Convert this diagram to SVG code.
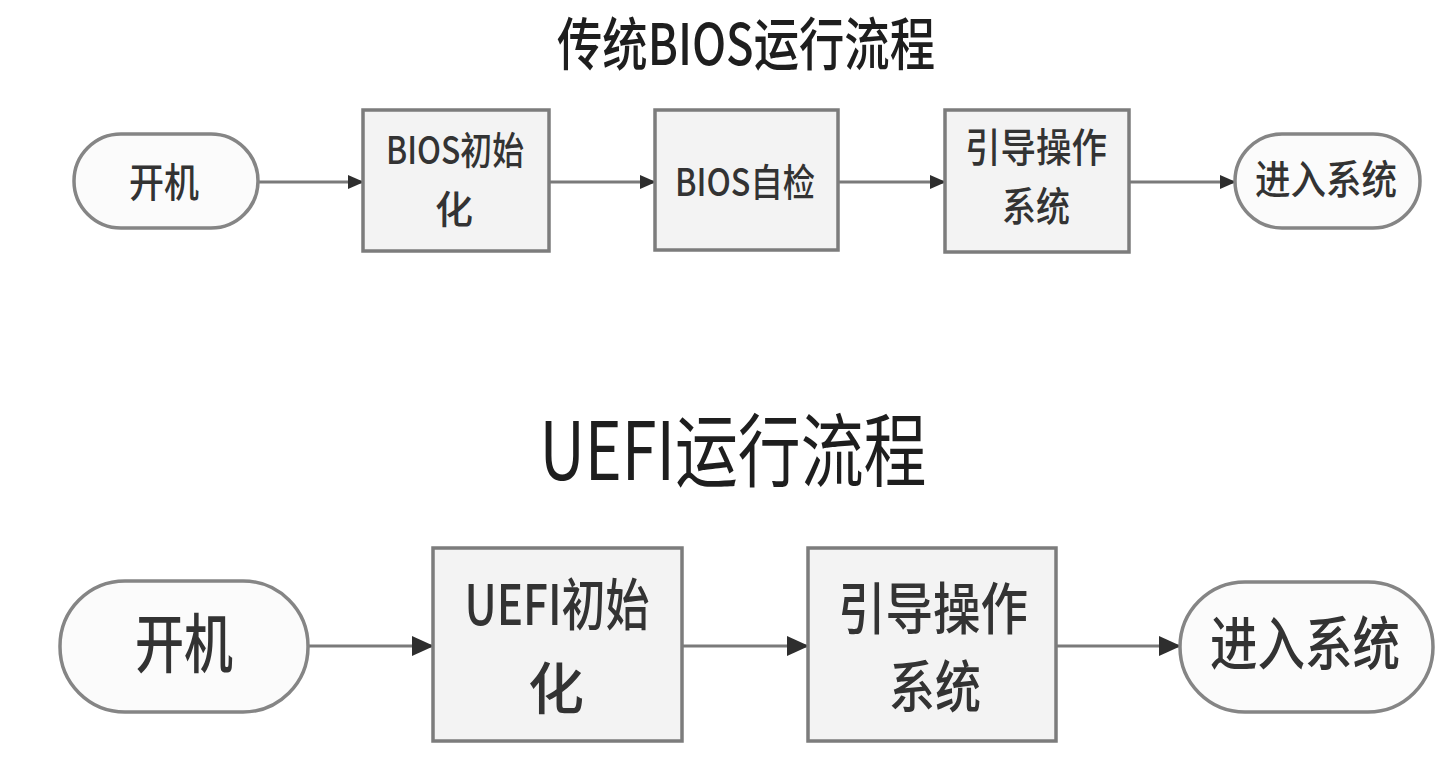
<svg xmlns="http://www.w3.org/2000/svg" width="1445" height="781" viewBox="0 0 1445 781">
<defs>
<style>
.title{font-family:"Noto Sans CJK SC","Noto Sans",sans-serif;fill:#1e1e1e;text-anchor:middle}
.lbl{font-family:"Noto Sans CJK SC","Noto Sans",sans-serif;fill:#333333;text-anchor:middle;font-weight:500}
.box{fill:#f3f3f3;stroke:#7c7c7c;stroke-width:3.5}
.pill{fill:#fbfbfb;stroke:#858585;stroke-width:3.5}
.conn{stroke:#7a7a7a;stroke-width:3;fill:none}
</style>
<marker id="arrS" markerUnits="userSpaceOnUse" markerWidth="16" markerHeight="14" refX="15" refY="7" orient="auto">
<path d="M0,0 L16,7 L0,14 Z" fill="#2e2e2e"/>
</marker>
<marker id="arrL" markerUnits="userSpaceOnUse" markerWidth="22" markerHeight="20" refX="21" refY="10" orient="auto">
<path d="M0,0 L22,10 L0,20 Z" fill="#2e2e2e"/>
</marker>
</defs>
<rect width="1445" height="781" fill="#ffffff"/>

<g id="title-bios"><text class="title" x="0" y="0" transform="translate(746,65) scale(0.84,1.06)" font-size="54" font-weight="500">传统BIOS运行流程</text></g>
<g id="title-uefi"><text class="title" x="733" y="480" font-size="80" textLength="387" lengthAdjust="spacingAndGlyphs">UEFI运行流程</text></g>

<g id="connectors">
<line class="conn" x1="258" y1="182" x2="363" y2="182" marker-end="url(#arrS)"/>
<line class="conn" x1="549" y1="182" x2="655" y2="182" marker-end="url(#arrS)"/>
<line class="conn" x1="838" y1="182" x2="945" y2="182" marker-end="url(#arrS)"/>
<line class="conn" x1="1129" y1="182" x2="1235" y2="182" marker-end="url(#arrS)"/>
<line class="conn" x1="309" y1="646" x2="433" y2="646" marker-end="url(#arrL)"/>
<line class="conn" x1="682" y1="646" x2="808" y2="646" marker-end="url(#arrL)"/>
<line class="conn" x1="1056" y1="646" x2="1180" y2="646" marker-end="url(#arrL)"/>
</g>

<g id="b-start">
<rect class="pill" x="74" y="134" width="184" height="94" rx="47" ry="47"/>
<text class="lbl" x="164" y="197" font-size="40" textLength="70" lengthAdjust="spacingAndGlyphs">开机</text>
</g>
<g id="b-init">
<rect class="box" x="363" y="110" width="186" height="141"/>
<text class="lbl" x="455" y="164" font-size="38" textLength="138" lengthAdjust="spacingAndGlyphs">BIOS初始</text>
<text class="lbl" x="454" y="223" font-size="38">化</text>
</g>
<g id="b-post">
<rect class="box" x="655" y="110" width="183" height="140"/>
<text class="lbl" x="745" y="196" font-size="38" textLength="140" lengthAdjust="spacingAndGlyphs">BIOS自检</text>
</g>
<g id="b-boot">
<rect class="box" x="945" y="110" width="184" height="142"/>
<text class="lbl" x="1036" y="162" font-size="40" textLength="142" lengthAdjust="spacingAndGlyphs">引导操作</text>
<text class="lbl" x="1036" y="221" font-size="40" textLength="68" lengthAdjust="spacingAndGlyphs">系统</text>
</g>
<g id="b-enter">
<rect class="pill" x="1235" y="134" width="185" height="94" rx="47" ry="47"/>
<text class="lbl" x="1326" y="194" font-size="40" textLength="142" lengthAdjust="spacingAndGlyphs">进入系统</text>
</g>

<g id="u-start">
<rect class="pill" x="60" y="581" width="248" height="131" rx="65" ry="65"/>
<text class="lbl" x="184" y="667" font-size="64" textLength="98" lengthAdjust="spacingAndGlyphs">开机</text>
</g>
<g id="u-init">
<rect class="box" x="433" y="548" width="249" height="193"/>
<text class="lbl" x="557" y="625" font-size="56" textLength="185" lengthAdjust="spacingAndGlyphs">UEFI初始</text>
<text class="lbl" x="556" y="709" font-size="56">化</text>
</g>
<g id="u-boot">
<rect class="box" x="808" y="548" width="248" height="193"/>
<text class="lbl" x="933" y="629" font-size="56" textLength="190" lengthAdjust="spacingAndGlyphs">引导操作</text>
<text class="lbl" x="935" y="707" font-size="56" textLength="92" lengthAdjust="spacingAndGlyphs">系统</text>
</g>
<g id="u-enter">
<rect class="pill" x="1180" y="582" width="253" height="130" rx="65" ry="65"/>
<text class="lbl" x="1305" y="665" font-size="58" textLength="190" lengthAdjust="spacingAndGlyphs">进入系统</text>
</g>
</svg>
